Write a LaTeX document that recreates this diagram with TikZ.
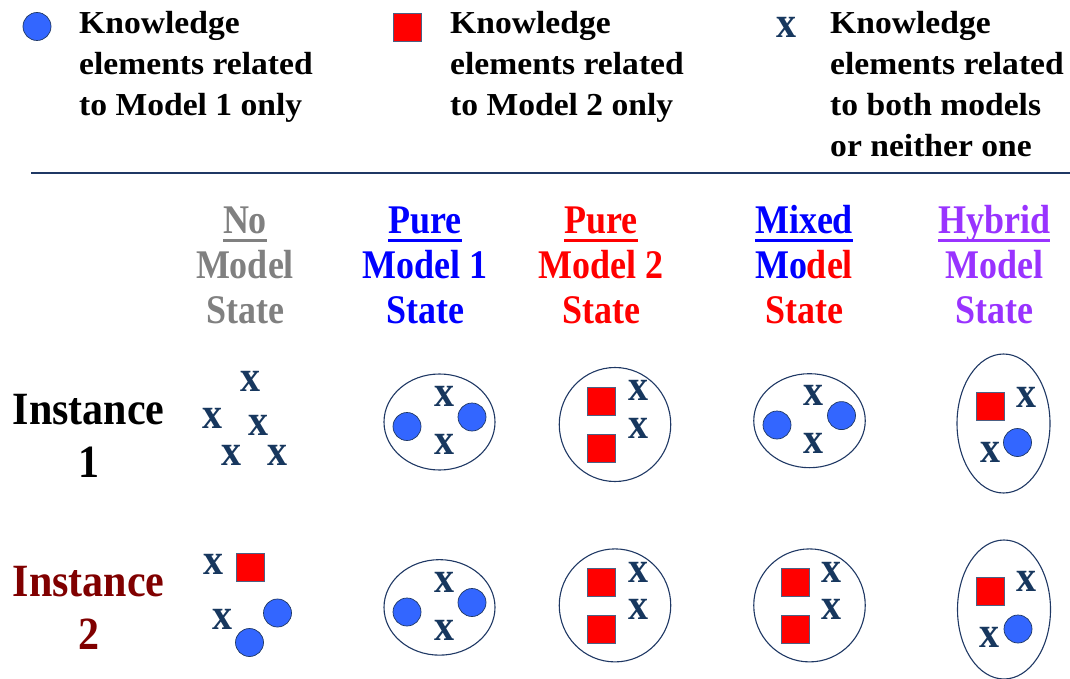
\documentclass[tikz,border=0pt]{standalone}
\usepackage{fontspec}
\setmainfont{Liberation Serif}
\usepackage{graphicx}
\usetikzlibrary{shapes.geometric}
\definecolor{xblue}{RGB}{23,55,94}
\definecolor{cblue}{RGB}{51,102,255}
\definecolor{hgray}{RGB}{128,128,128}
\definecolor{hblue}{RGB}{0,0,255}
\definecolor{hred}{RGB}{255,0,0}
\definecolor{hpurple}{RGB}{153,51,255}
\definecolor{dred}{RGB}{128,0,0}
\definecolor{edgeb}{RGB}{31,56,100}
\newcommand\kxt{\scalebox{1}[1.1]{x}}
\newcommand\hdtxt[1]{\scalebox{1}[1.13]{#1}}
\newcommand\insttxt[1]{\scalebox{1}[1.1]{#1}}
\newcommand\legtxt[1]{\scalebox{1.05}[1]{#1}}
\begin{document}
\begin{tikzpicture}[x=1pt,y=-1pt,
 kc/.style={circle,fill=cblue,draw=edgeb,line width=0.7pt,minimum size=28pt,inner sep=0pt},
 ks/.style={rectangle,fill=red,draw=edgeb!80!white,line width=0.7pt,minimum size=28pt,inner sep=0pt},
 kx/.style={text=xblue,inner sep=0pt,font=\bfseries\fontsize{40}{40}\selectfont},
 ell/.style={ellipse,draw=edgeb,line width=1.1pt,inner sep=0pt},
 leg/.style={anchor=base west,inner sep=0pt,font=\bfseries\fontsize{32}{32}\selectfont},
 hd/.style={anchor=base,inner sep=0pt,font=\bfseries\fontsize{36}{36}\selectfont},
 inst/.style={anchor=base,inner sep=0pt,font=\bfseries\fontsize{42}{42}\selectfont},
]
\useasboundingbox (0,0) rectangle (1070,679);

% ---------- legend ----------
\node[kc] (lc) at (37,26.5) {};
\node[leg] (l1a) at (79,33.3) {\legtxt{Knowledge}};
\node[leg] (l1b) at (79,74.5) {\legtxt{elements related}};
\node[leg] (l1c) at (79,115.7) {\legtxt{to Model 1 only}};

\node[ks] (ls) at (407,27) {};
\node[leg] (l2a) at (450,33.3) {\legtxt{Knowledge}};
\node[leg] (l2b) at (450,74.5) {\legtxt{elements related}};
\node[leg] (l2c) at (450,115.7) {\legtxt{to Model 2 only}};

\node[kx] (lx) at (786,27) {\kxt};
\node[leg] (l3a) at (830,33.3) {\legtxt{Knowledge}};
\node[leg] (l3b) at (830,74.5) {\legtxt{elements related}};
\node[leg] (l3c) at (830,115.7) {\legtxt{to both models}};
\node[leg] (l3d) at (830,157) {\legtxt{or neither one}};

\coordinate (sepL) at (31,173);
\coordinate (sepR) at (1070,173);
\draw[edgeb,line width=1.5pt] (sepL) -- (sepR);

% ---------- headers ----------
\node[hd,text=hgray] (h1a) at (245,233) {\hdtxt{No}};
\node[hd,text=hgray] (h1b) at (245,278) {\hdtxt{Model}};
\node[hd,text=hgray] (h1c) at (245,323) {\hdtxt{State}};
\fill[hgray] ([yshift=-5.5pt]h1a.base west) rectangle ([yshift=-8.5pt]h1a.base east);

\node[hd,text=hblue] (h2a) at (425,233) {\hdtxt{Pure}};
\node[hd,text=hblue] (h2b) at (425,278) {\hdtxt{Model 1}};
\node[hd,text=hblue] (h2c) at (425,323) {\hdtxt{State}};
\fill[hblue] ([yshift=-5.5pt]h2a.base west) rectangle ([yshift=-8.5pt]h2a.base east);

\node[hd,text=hred] (h3a) at (601,233) {\hdtxt{Pure}};
\node[hd,text=hred] (h3b) at (601,278) {\hdtxt{Model 2}};
\node[hd,text=hred] (h3c) at (601,323) {\hdtxt{State}};
\fill[hred] ([yshift=-5.5pt]h3a.base west) rectangle ([yshift=-8.5pt]h3a.base east);

\node[hd,text=hblue] (h4a) at (804,233) {\hdtxt{Mixed}};
\node[hd] (h4b) at (804,278) {\hdtxt{\textcolor{hblue}{Mo}\textcolor{hred}{del}}};
\node[hd,text=hred] (h4c) at (804,323) {\hdtxt{State}};
\fill[hblue] ([yshift=-5.5pt]h4a.base west) rectangle ([yshift=-8.5pt]h4a.base east);

\node[hd,text=hpurple] (h5a) at (994,233) {\hdtxt{Hybrid}};
\node[hd,text=hpurple] (h5b) at (994,278) {\hdtxt{Model}};
\node[hd,text=hpurple] (h5c) at (994,323) {\hdtxt{State}};
\fill[hpurple] ([yshift=-5.5pt]h5a.base west) rectangle ([yshift=-8.5pt]h5a.base east);

% ---------- row labels ----------
\node[inst] (r1a) at (88.5,424) {\insttxt{Instance}};
\node[inst] (r1b) at (88.5,477) {\insttxt{1}};
\node[inst,text=dred] (r2a) at (88.5,596) {\insttxt{Instance}};
\node[inst,text=dred] (r2b) at (88.5,649) {\insttxt{2}};

% ---------- row 1 ----------
% no model
\node[kx] (a1x1) at (250,381) {\kxt};
\node[kx] (a1x2) at (212,418) {\kxt};
\node[kx] (a1x3) at (258,425) {\kxt};
\node[kx] (a1x4) at (231,455) {\kxt};
\node[kx] (a1x5) at (277,455) {\kxt};
% pure model 1
\node[ell,minimum width=111pt,minimum height=96pt] (b1e) at (439.5,422) {};
\node[kc] (b1c1) at (407,426.5) {};
\node[kc] (b1c2) at (472,417) {};
\node[kx] (b1x1) at (444,396) {\kxt};
\node[kx] (b1x2) at (444,444.5) {\kxt};
% pure model 2
\node[ell,minimum width=111.5pt,minimum height=114pt] (c1e) at (615,424.5) {};
\node[ks] (c1s1) at (601,401) {};
\node[ks] (c1s2) at (601,448) {};
\node[kx] (c1x1) at (638,390) {\kxt};
\node[kx] (c1x2) at (638,428) {\kxt};
% mixed
\node[ell,minimum width=111.5pt,minimum height=94pt] (d1e) at (809.5,420.7) {};
\node[kc] (d1c1) at (777,425) {};
\node[kc] (d1c2) at (841.5,415.6) {};
\node[kx] (d1x1) at (813.5,395.7) {\kxt};
\node[kx] (d1x2) at (813.5,443) {\kxt};
% hybrid
\node[ell,minimum width=93pt,minimum height=139pt] (e1e) at (1003.5,423.5) {};
\node[ks] (e1s) at (990,406) {};
\node[kx] (e1x1) at (1026,397) {\kxt};
\node[kx] (e1x2) at (990,452) {\kxt};
\node[kc] (e1c) at (1017.5,442.5) {};

% ---------- row 2 ----------
% no model
\node[kx] (a2x1) at (213,564) {\kxt};
\node[ks] (a2s) at (250,567) {};
\node[kx] (a2x2) at (222,619) {\kxt};
\node[kc] (a2c1) at (277.5,613) {};
\node[kc] (a2c2) at (249.5,642.5) {};
% pure model 1
\node[ell,minimum width=111pt,minimum height=95.5pt] (b2e) at (439.5,607.4) {};
\node[kc] (b2c1) at (407,612) {};
\node[kc] (b2c2) at (472,602.5) {};
\node[kx] (b2x1) at (444,582) {\kxt};
\node[kx] (b2x2) at (444,630) {\kxt};
% pure model 2
\node[ell,minimum width=111.5pt,minimum height=113pt] (c2e) at (615,605.4) {};
\node[ks] (c2s1) at (601,582) {};
\node[ks] (c2s2) at (601,629) {};
\node[kx] (c2x1) at (638,572) {\kxt};
\node[kx] (c2x2) at (638,609.5) {\kxt};
% mixed
\node[ell,minimum width=111.5pt,minimum height=113pt] (d2e) at (809.5,605.4) {};
\node[ks] (d2s1) at (795,582) {};
\node[ks] (d2s2) at (795,629) {};
\node[kx] (d2x1) at (831.7,572) {\kxt};
\node[kx] (d2x2) at (831.7,609.5) {\kxt};
% hybrid
\node[ell,minimum width=93pt,minimum height=139pt] (e2e) at (1004,609.5) {};
\node[ks] (e2s) at (990,591.5) {};
\node[kx] (e2x1) at (1026,581) {\kxt};
\node[kx] (e2x2) at (989,637) {\kxt};
\node[kc] (e2c) at (1018,629) {};
\end{tikzpicture}
\end{document}
